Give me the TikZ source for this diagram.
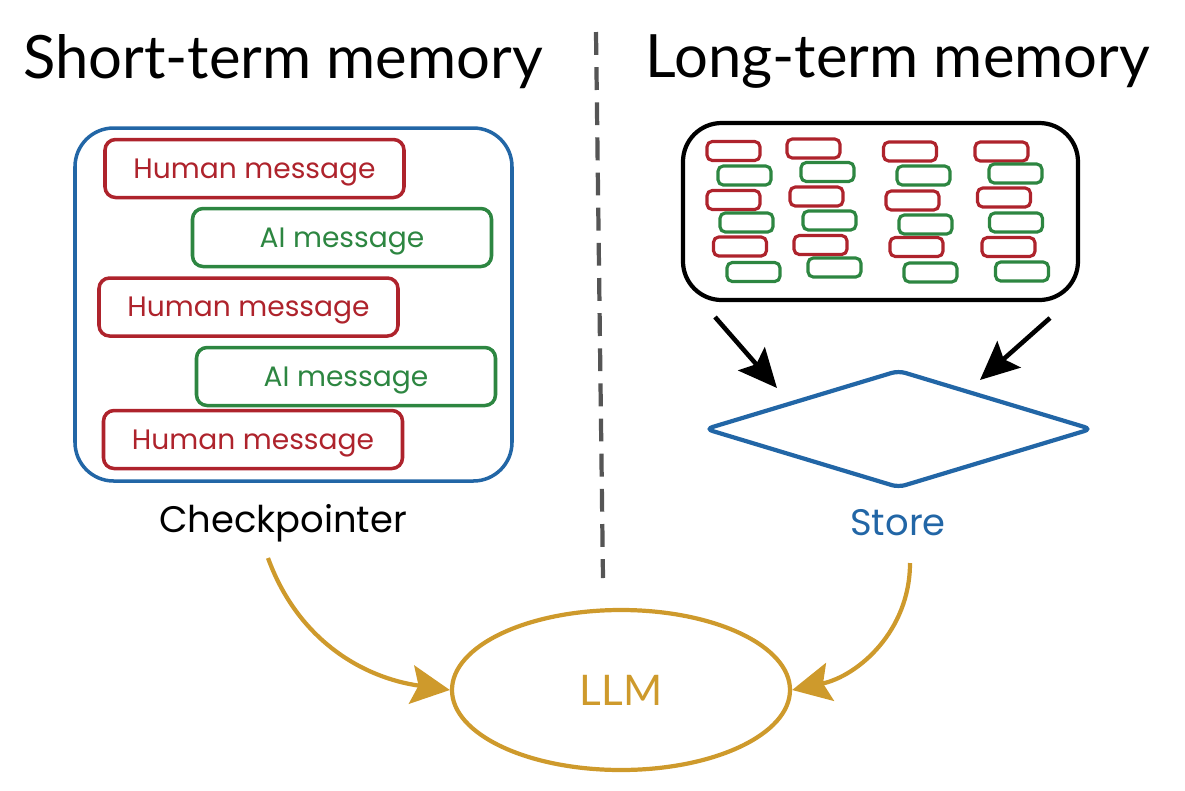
\documentclass[tikz,border=0pt]{standalone}
\usepackage{fontspec}
\setmainfont{Poppins}
\newfontfamily\titlefont{Lato}
\usetikzlibrary{arrows.meta,shapes.geometric,positioning}

\definecolor{hred}{HTML}{AE232C}
\definecolor{agreen}{HTML}{2D8641}
\definecolor{sblue}{HTML}{2266A6}
\definecolor{gold}{HTML}{CE9A2C}
\definecolor{dashgray}{HTML}{555555}

\tikzset{
  msg/.style={draw, rounded corners=3pt, line width=1pt, minimum width=2.99cm, minimum height=0.58cm, text depth=0pt, font=\fontsize{8}{10}\selectfont},
  human/.style={msg, draw=hred, text=hred},
  aimsg/.style={msg, draw=agreen, text=agreen},
  chip/.style={draw, rounded corners=1.5pt, line width=0.9pt, minimum width=0.53cm, minimum height=0.19cm, inner sep=0pt},
  title/.style={font=\titlefont\fontsize{17}{19}\selectfont},
  label/.style={font=\fontsize{10.5}{12}\selectfont},
}

\begin{document}
\begin{tikzpicture}[x=1cm, y=-1cm]
      \useasboundingbox (0,0) rectangle (11.85,7.90);

      % Titles
      \node[title] (stm) at (2.83,0.62) {Short-term memory};
      \node[title] (ltm) at (8.98,0.62) {Long-term memory};

      % Divider
      \coordinate (dtop) at (5.96,0.32);
      \coordinate (dbot) at (6.03,5.78);
      \draw[dashgray, line width=1.2pt, dash pattern=on 6.5pt off 3.5pt] (dtop) -- (dbot);

      % Checkpointer
      \node[draw=sblue, line width=1pt, rounded corners=11pt, minimum width=4.37cm, minimum height=3.53cm] (cpbox) at (2.935,3.045) {};
      \node[human] (h1) at (2.545,1.685) {Human message};
      \node[aimsg] (a1) at (3.42,2.375) {AI message};
      \node[human] (h2) at (2.485,3.07) {Human message};
      \node[aimsg] (a2) at (3.46,3.765) {AI message};
      \node[human] (h3) at (2.53,4.395) {Human message};
      \node[label] (cp) at (2.83,5.23) {Checkpointer};

      % Store
      \node[draw, line width=1.2pt, rounded corners=11pt, minimum width=3.95cm, minimum height=1.77cm] (pool) at (8.805,2.115) {};
      \foreach \x/\y [count=\i] in {7.335/1.51, 8.135/1.485, 9.10/1.515, 10.015/1.515,
                                    7.335/2.00, 8.165/1.965, 9.125/2.005, 10.04/1.975,
                                    7.40/2.465, 8.205/2.45, 9.165/2.47, 10.085/2.47}
        \node[chip, draw=hred] (r\i) at (\x,\y) {};
      \foreach \x/\y [count=\i] in {7.445/1.755, 8.275/1.72, 9.235/1.755, 10.155/1.735,
                                    7.465/2.225, 8.295/2.205, 9.255/2.245, 10.16/2.225,
                                    7.535/2.72, 8.345/2.675, 9.305/2.725, 10.22/2.715}
        \node[chip, draw=agreen] (g\i) at (\x,\y) {};

      \node[diamond, draw=sblue, line width=1.2pt, rounded corners=2pt, minimum width=3.87cm, minimum height=1.18cm, inner sep=0pt] (store) at (8.985,4.29) {};
      \node[label, text=sblue] (stlabel) at (8.98,5.23) {Store};

      \coordinate (in1s) at (7.15,3.17);
      \coordinate (in1e) at (7.77,3.88);
      \coordinate (in2s) at (10.50,3.18);
      \coordinate (in2e) at (9.80,3.80);
      \draw[line width=1.3pt, -{Stealth[length=11pt, width=10pt, inset=2pt]}] (in1s) -- (in1e);
      \draw[line width=1.3pt, -{Stealth[length=11pt, width=10pt, inset=2pt]}] (in2s) -- (in2e);

      % LLM
      \node[ellipse, draw=gold, text=gold, line width=1.2pt, minimum width=3.38cm, minimum height=1.60cm, font=\titlefont\fontsize{12}{14}\selectfont] (llm) at (6.21,6.90) {LLM};

      \coordinate (cpout) at (2.68,5.58);
      \coordinate (stout) at (9.10,5.63);
      \draw[gold, line width=1.2pt, -{Stealth[length=11pt, width=11pt, inset=2pt]}] (cpout) to[out=-70, in=172] (llm.west);
      \draw[gold, line width=1.2pt, -{Stealth[length=11pt, width=11pt, inset=2pt]}] (stout) to[out=-90, in=12] (llm.east);
    \end{tikzpicture}
\end{document}
